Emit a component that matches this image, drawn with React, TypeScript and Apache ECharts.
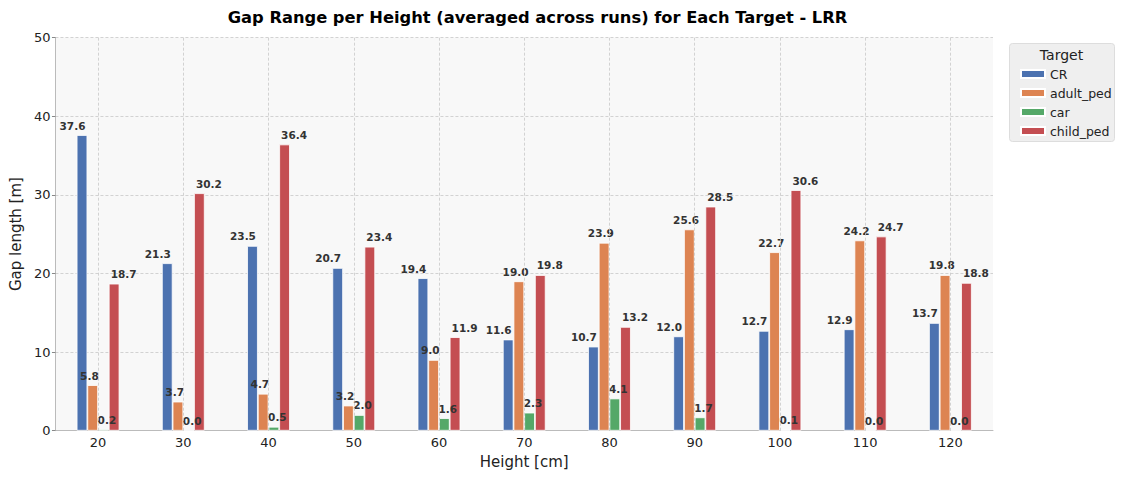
import React, { useEffect, useRef } from "react";
import * as echarts from "echarts";

const categories = ["20", "30", "40", "50", "60", "70", "80", "90", "100", "110", "120"];
const seriesNames = ["CR", "adult_ped", "car", "child_ped"];
const crValues = [37.6, 21.3, 23.5, 20.7, 19.4, 11.6, 10.7, 12.0, 12.7, 12.9, 13.7];
const adultPedValues = [5.8, 3.7, 4.7, 3.2, 9.0, 19.0, 23.9, 25.6, 22.7, 24.2, 19.8];
const carValues = [0.2, 0.0, 0.5, 2.0, 1.6, 2.3, 4.1, 1.7, 0.1, 0.0, 0.0];
const childPedValues = [18.7, 30.2, 36.4, 23.4, 11.9, 19.8, 13.2, 28.5, 30.6, 24.7, 18.8];
const colors = ["#4c72b0", "#dd8452", "#55a868", "#c44e52"];
const labelOffsets = [-9.5, -3.3, 3.5, 9.5];

const FONT = "DejaVu Sans";

export default function App() {
  const ref = useRef<HTMLDivElement>(null);
  useEffect(() => {
    document.body.style.margin = "0";
    const chart = echarts.init(ref.current!, null, { renderer: "svg" });
    const values = [crValues, adultPedValues, carValues, childPedValues];
    const barSeries = seriesNames.map((name, i) => ({
      name,
      type: "bar",
      data: values[i],
      barWidth: 10.7,
      barGap: "0%",
      itemStyle: { color: colors[i], borderColor: "#ffffff", borderWidth: 0.8 },
      label: {
        show: true,
        position: "top",
        distance: 4,
        offset: [labelOffsets[i], 0],
        formatter: (p: any) => Number(p.value).toFixed(1),
        fontFamily: FONT,
        fontSize: 10.5,
        fontWeight: "bold",
        color: "#333333",
      },
      z: 3,
    }));
    chart.setOption({
      animation: false,
      backgroundColor: "#ffffff",
      grid: {
        left: 52.5,
        right: 131,
        top: 37.5,
        bottom: 48.3,
        show: true,
        backgroundColor: "#f8f8f8",
        borderWidth: 0,
      },
      legend: {
        orient: "vertical",
        left: 1015,
        top: 62.5,
        itemWidth: 24,
        itemHeight: 8,
        itemGap: 6,
        icon: "rect",
        data: seriesNames,
        textStyle: { fontFamily: FONT, fontSize: 12.5, color: "#222222" },
        selectedMode: false,
      },
      graphic: [
        {
          type: "text",
          x: 537.5,
          y: 17,
          style: {
            text: "Gap Range per Height (averaged across runs) for Each Target - LRR",
            fontFamily: FONT,
            fontSize: 16.3,
            fontWeight: "bold",
            fill: "#000000",
            align: "center",
            verticalAlign: "middle",
          },
        },
        {
          type: "rect",
          left: 1009,
          top: 43,
          shape: { width: 105, height: 98, r: 3 },
          style: { fill: "#efefef", stroke: "#dddddd", lineWidth: 1 },
          z: -1,
        },
        {
          type: "text",
          x: 1061.5,
          y: 55,
          style: {
            text: "Target",
            fontFamily: FONT,
            fontSize: 14,
            fill: "#222222",
            align: "center",
            verticalAlign: "middle",
          },
        },
      ],
      xAxis: {
        type: "category",
        data: categories,
        name: "Height [cm]",
        nameLocation: "middle",
        nameGap: 24,
        nameTextStyle: { fontFamily: FONT, fontSize: 15, color: "#222222" },
        axisLine: { show: true, lineStyle: { color: "#bbbbbb", width: 1 } },
        axisTick: { show: false },
        axisLabel: { fontFamily: FONT, fontSize: 13, color: "#222222", margin: 5 },
        splitLine: { show: false },
      },
      yAxis: {
        type: "value",
        min: 0,
        max: 50,
        interval: 10,
        name: "Gap length [m]",
        nameLocation: "middle",
        nameGap: 28,
        nameTextStyle: { fontFamily: FONT, fontSize: 15, color: "#222222" },
        axisLine: { show: true, lineStyle: { color: "#bbbbbb", width: 1 } },
        axisTick: { show: true, length: 3.5, lineStyle: { color: "#888888" } },
        axisLabel: { fontFamily: FONT, fontSize: 13, color: "#222222", margin: 5 },
        splitLine: { show: true, lineStyle: { color: "#c8c8c8", type: [3, 2], width: 0.8 } },
      },
      series: [
        {
          name: "__grid",
          type: "line",
          data: [],
          z: 1,
          silent: true,
          markLine: {
            silent: true,
            symbol: ["none", "none"],
            label: { show: false },
            lineStyle: { color: "#c8c8c8", type: [3, 2], width: 0.8 },
            data: categories.map((c) => ({ xAxis: c })),
          },
        },
        ...barSeries,
      ],
    });
    return () => chart.dispose();
  }, []);
  return <div ref={ref} style={{ width: 1124, height: 479 }} />;
}
